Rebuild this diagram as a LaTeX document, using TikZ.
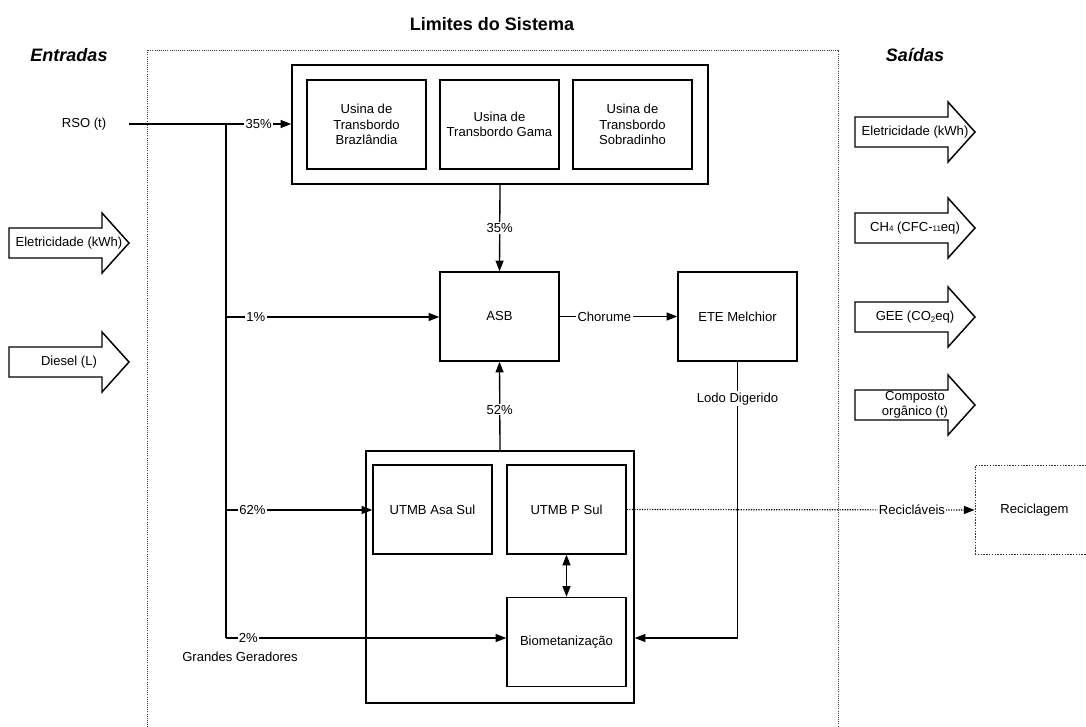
\documentclass[tikz,border=0pt]{standalone}
\usepackage{fontspec}
\setmainfont{Liberation Sans}
\usetikzlibrary{arrows.meta}

% Hollow block arrow: #1 name, #2 left x, #3 centre y, #4 label
\newcommand{\blockarrow}[4]{%
  \draw[barrow] (#2,#3-15) -- (#2+93,#3-15) -- (#2+93,#3-30) -- (#2+120,#3)
    -- (#2+93,#3+30) -- (#2+93,#3+15) -- (#2,#3+15) -- cycle;
  \node[txt] (#1) at (#2+60,#3) {#4};}

\newcommand{\smalltxt}[1]{{\fontsize{6}{6}\selectfont #1}}

\begin{document}
\begin{tikzpicture}[x=0.75pt,y=-0.75pt,
  txt/.style={font=\fontsize{9.8}{11.6}\selectfont, align=center, inner sep=0pt},
  head/.style={font=\fontsize{13.5}{15}\selectfont\bfseries},
  box/.style={txt, draw, line width=1.1pt, rectangle,
    minimum width=89.25pt, minimum height=66.75pt},
  frame/.style={draw, line width=1.1pt, rectangle, inner sep=0pt},
  flow/.style={line width=1pt, -{Triangle[length=8pt,width=6pt]}},
  plain/.style={line width=1pt},
  pct/.style={txt, fill=white, inner sep=1pt},
  barrow/.style={line width=1.1pt, line join=miter, fill=white},
  boundary/.style={densely dotted, line width=0.6pt, black!75},
]
\useasboundingbox (0,0) rectangle (1086,727);

% headings
\node[head] (titulo) at (492,24) {Limites do Sistema};
\node[head, font=\fontsize{13.5}{15}\selectfont\bfseries\itshape] (entradas) at (69,55) {Entradas};
\node[head, font=\fontsize{13.5}{15}\selectfont\bfseries\itshape] (saidas) at (915,55) {Saídas};

% system boundary (open at the bottom)
\draw[boundary] (147,740) -- (147,50) -- (838,50) -- (838,740);

% input arrows
\blockarrow{inEl}{9}{243}{Eletricidade (kWh)}
\blockarrow{inDi}{9}{362}{Diesel (L)}

% output arrows
\blockarrow{outEl}{855}{132}{Eletricidade (kWh)}
\blockarrow{outCh}{855}{228}{CH\smalltxt{4} (CFC-\smalltxt{11}eq)}
\blockarrow{outGee}{855}{317}{GEE (CO\raisebox{-0.25ex}{\smalltxt{2}}eq)}
\blockarrow{outComp}{855}{405}{Composto\\orgânico (t)}

% transfer stations
\node[frame, minimum width=312pt, minimum height=89.25pt] (tbox) at (500,124.5) {};
\node[box] (braz) at (366.5,124.5) {Usina de\\Transbordo\\Brazlândia};
\node[box] (gama) at (499.5,124.5) {Usina de\\Transbordo Gama};
\node[box] (sobr) at (632.5,124.5) {Usina de\\Transbordo\\Sobradinho};

% landfill and treatment plant
\node[box] (asb) at (499.5,316.5) {ASB};
\node[box] (ete) at (737.5,316.5) {ETE Melchior};

% sorting and composting plants
\node[frame, minimum width=201pt, minimum height=189pt] (utmb) at (500,577) {};
\node[box] (asasul) at (432.5,509.5) {UTMB Asa Sul};
\node[box] (psul) at (566.5,509.5) {UTMB P Sul};
\node[box] (bio) at (566.5,642) {Biometanização};

% recycling (outside the boundary)
\node[box, densely dotted, line width=0.7pt, draw=black!80] (recic) at (1034.5,510) {Reciclagem};

% RSO input and distribution trunk
\node[txt] (rso) at (84,124) {RSO (t)};
\coordinate (rsoout) at (129,124);
\coordinate (j0) at (226,124);
\coordinate (j1) at (226,317);
\coordinate (j2) at (226,510);
\coordinate (j4) at (226,638);

\draw[plain] (rsoout) -- (j0);
\draw[flow] (j0) -- node[pct, pos=0.5] {35\%} (j0 -| tbox.west);
\draw[plain] (j0) -- (j4);
\draw[flow] (j1) -- node[pct, pos=0.14] {1\%} (j1 -| asb.west);
\draw[flow] (j2) -- node[pct, pos=0.18] {62\%} (j2 -| asasul.west);
\draw[flow] (j4) -- node[pct, pos=0.08] (p2) {2\%} (j4 -| bio.west);
\node[txt] (gg) at (240,657) {Grandes Geradores};

% internal flows
\draw[flow] (tbox.south) -- node[pct] {35\%} (asb.north);
\draw[flow] (utmb.north) -- node[pct, pos=0.46] {52\%} (asb.south);
\draw[flow] (asb.east) -- node[pct, pos=0.38] {Chorume} (ete.west);
\draw[flow] (ete.south) -- node[pct, pos=0.134] {Lodo Digerido} (ete.south |- j4)
  -- (utmb.east |- j4);
\draw[line width=1pt, {Triangle[length=8pt,width=6pt]}-{Triangle[length=8pt,width=6pt]}]
  (psul.south) -- (bio.north);
\draw[densely dotted, line width=0.9pt, -{Triangle[length=8pt,width=6pt]}]
  (psul.east) -- node[pct, pos=0.82] {Recicláveis} (recic.west);

\end{tikzpicture}
\end{document}
